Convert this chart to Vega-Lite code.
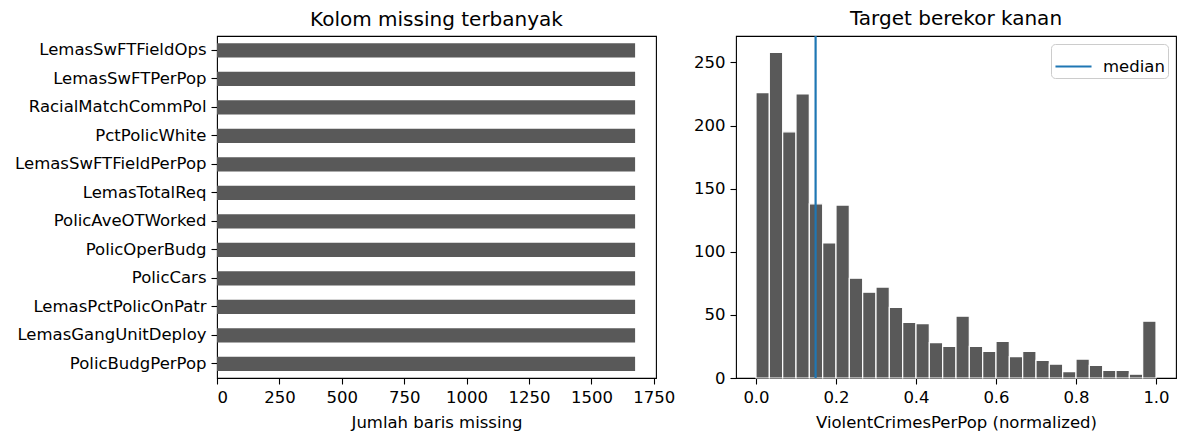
{
  "$schema": "https://vega.github.io/schema/vega-lite/v6.json",
  "padding": {"left": 14, "top": 8, "right": 5, "bottom": 4},
  "background": "white",
  "config": {
    "font": "DejaVu Sans",
    "view": {"stroke": "#000", "strokeWidth": 1.1},
    "axis": {
      "domain": false, "grid": false, "ticks": true, "tickColor": "#000", "tickSize": 6, "tickWidth": 1.1,
      "labelColor": "#000", "labelFontSize": 16.5, "labelPadding": 5, "labelFont": "DejaVu Sans", "labelLimit": 400,
      "titleFontWeight": "normal", "titleFontSize": 16.5, "titleColor": "#000", "titleFont": "DejaVu Sans", "titlePadding": 9
    },
    "title": {"fontSize": 20, "fontWeight": "normal", "color": "#000", "offset": 6, "font": "DejaVu Sans"},
    "legend": {"labelFontSize": 16.5, "labelColor": "#000", "labelFont": "DejaVu Sans"}
  },
  "resolve": {"legend": {"color": "independent"}},
  "spacing": 16,
  "hconcat": [
    {
      "title": "Kolom missing terbanyak",
      "width": 439,
      "height": 342,
      "data": {"values": [
        {"col": "LemasSwFTFieldOps", "missing": 1675},
        {"col": "LemasSwFTPerPop", "missing": 1675},
        {"col": "RacialMatchCommPol", "missing": 1675},
        {"col": "PctPolicWhite", "missing": 1675},
        {"col": "LemasSwFTFieldPerPop", "missing": 1675},
        {"col": "LemasTotalReq", "missing": 1675},
        {"col": "PolicAveOTWorked", "missing": 1675},
        {"col": "PolicOperBudg", "missing": 1675},
        {"col": "PolicCars", "missing": 1675},
        {"col": "LemasPctPolicOnPatr", "missing": 1675},
        {"col": "LemasGangUnitDeploy", "missing": 1675},
        {"col": "PolicBudgPerPop", "missing": 1675}
      ]},
      "mark": {"type": "bar", "color": "#595959"},
      "encoding": {
        "y": {"field": "col", "type": "nominal", "sort": null, "title": null,
              "scale": {"paddingInner": 0.5, "paddingOuter": 0.25}},
        "x": {"field": "missing", "type": "quantitative", "title": "Jumlah baris missing",
              "scale": {"domain": [0, 1758.75], "nice": false, "zero": false},
              "axis": {"values": [0, 250, 500, 750, 1000, 1250, 1500, 1750], "format": "d"}}
      }
    },
    {
      "title": "Target berekor kanan",
      "width": 440,
      "height": 342,
      "layer": [
        {
          "data": {"values": [
            {"lo": 0.0, "hi": 0.0333, "count": 226},
            {"lo": 0.0333, "hi": 0.0667, "count": 258},
            {"lo": 0.0667, "hi": 0.1, "count": 195},
            {"lo": 0.1, "hi": 0.1333, "count": 225},
            {"lo": 0.1333, "hi": 0.1667, "count": 138},
            {"lo": 0.1667, "hi": 0.2, "count": 107},
            {"lo": 0.2, "hi": 0.2333, "count": 137},
            {"lo": 0.2333, "hi": 0.2667, "count": 79},
            {"lo": 0.2667, "hi": 0.3, "count": 68},
            {"lo": 0.3, "hi": 0.3333, "count": 72},
            {"lo": 0.3333, "hi": 0.3667, "count": 56},
            {"lo": 0.3667, "hi": 0.4, "count": 44},
            {"lo": 0.4, "hi": 0.4333, "count": 43},
            {"lo": 0.4333, "hi": 0.4667, "count": 28},
            {"lo": 0.4667, "hi": 0.5, "count": 25},
            {"lo": 0.5, "hi": 0.5333, "count": 49},
            {"lo": 0.5333, "hi": 0.5667, "count": 25},
            {"lo": 0.5667, "hi": 0.6, "count": 21},
            {"lo": 0.6, "hi": 0.6333, "count": 29},
            {"lo": 0.6333, "hi": 0.6667, "count": 17},
            {"lo": 0.6667, "hi": 0.7, "count": 21},
            {"lo": 0.7, "hi": 0.7333, "count": 14},
            {"lo": 0.7333, "hi": 0.7667, "count": 11},
            {"lo": 0.7667, "hi": 0.8, "count": 5},
            {"lo": 0.8, "hi": 0.8333, "count": 15},
            {"lo": 0.8333, "hi": 0.8667, "count": 10},
            {"lo": 0.8667, "hi": 0.9, "count": 6},
            {"lo": 0.9, "hi": 0.9333, "count": 6},
            {"lo": 0.9333, "hi": 0.9667, "count": 3},
            {"lo": 0.9667, "hi": 1.0, "count": 45}
          ]},
          "mark": {"type": "rect", "color": "#595959", "stroke": "white", "strokeWidth": 1.2},
          "encoding": {
            "x": {"field": "lo", "type": "quantitative", "title": "ViolentCrimesPerPop (normalized)",
                  "scale": {"domain": [-0.05, 1.05], "nice": false, "zero": false},
                  "axis": {"values": [0, 0.2, 0.4, 0.6, 0.8, 1.0], "format": ".1f"}},
            "x2": {"field": "hi"},
            "y": {"field": "count", "type": "quantitative", "title": null,
                  "scale": {"domain": [0, 270.9], "nice": false},
                  "axis": {"values": [0, 50, 100, 150, 200, 250]}},
            "y2": {"datum": 0}
          }
        },
        {
          "data": {"values": [{"stat": "median", "value": 0.149}]},
          "mark": {"type": "rule", "strokeWidth": 2.2},
          "encoding": {
            "x": {"field": "value", "type": "quantitative"},
            "color": {"field": "stat", "type": "nominal",
                      "scale": {"domain": ["median"], "range": ["#1f77b4"]},
                      "legend": {"title": null, "orient": "top-right", "offset": 8, "symbolType": "stroke",
                                 "symbolSize": 1300, "symbolStrokeWidth": 2.2, "strokeColor": "#cccccc",
                                 "fillColor": "white", "cornerRadius": 4, "padding": 3, "labelOffset": 10}}
          }
        }
      ]
    }
  ]
}
